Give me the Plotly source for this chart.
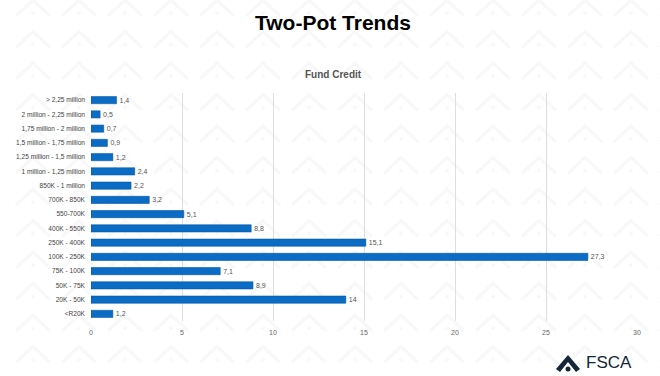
import plotly.graph_objects as go

categories = ["> 2,25 million", "2 million - 2,25 million", "1,75 million - 2 million",
              "1,5 million - 1,75 million", "1,25 million - 1,5 million", "1 million - 1,25 million",
              "850K - 1 million", "700K - 850K", "550-700K", "400K - 550K", "250K - 400K",
              "100K - 250K", "75K - 100K", "50K - 75K", "20K - 50K", "<R20K"]
values = [1.4, 0.5, 0.7, 0.9, 1.2, 2.4, 2.2, 3.2, 5.1, 8.8, 15.1, 27.3, 7.1, 8.9, 14, 1.2]
labels = [("%g" % v).replace(".", ",") for v in values]
x_ticks = [0, 5, 10, 15, 20, 25, 30]

fig = go.Figure(go.Bar(
    y=categories, x=values, orientation="h",
    marker=dict(color="#0a6cc4", line=dict(color="#0558a3", width=0.6)),
    text=labels, textposition="outside", cliponaxis=False,
    textfont=dict(family="Liberation Sans, Arial", size=7, color="#555555"),
    hoverinfo="skip",
))

L, R, T, B = 91, 23, 93, 55
W, H = 660, 376
pw, ph = W - L - R, H - T - B

def px(x):
    return (x - L) / pw

def py(y):
    return (H - B - y) / ph

# faint chevron watermark in the background (decoration)
for r in range(13):
    ay = 0 + r * 31.5
    lines, dots = [], []
    for c in range(15):
        ax = 33 + c * 46
        lines.append("M {} {} L {} {} L {} {}".format(px(ax - 17), py(ay + 16), px(ax), py(ay), px(ax + 17), py(ay + 16)))
        d = 2.4
        cy = ay + 13
        dots.append("M {} {} L {} {} L {} {} L {} {} Z".format(px(ax - d), py(cy), px(ax), py(cy - d), px(ax + d), py(cy), px(ax), py(cy + d)))
    fig.add_shape(type="path", path=" ".join(lines), xref="paper", yref="paper", layer="below",
                  line=dict(color="#f8f8f8", width=3.2))
    fig.add_shape(type="path", path=" ".join(dots), xref="paper", yref="paper", layer="below",
                  fillcolor="#f8f8f8", line=dict(width=0))

# FSCA logo icon (decoration)
icon = "M {} {} L {} {} L {} {} L {} {} L {} {} L {} {} Z".format(
    px(556), py(369), px(568), py(355), px(580), py(369),
    px(576), py(372), px(568), py(362), px(560), py(372))
fig.add_shape(type="path", path=icon, xref="paper", yref="paper",
              fillcolor="#14263a", line=dict(width=0))
fig.add_shape(type="circle", xref="paper", yref="paper",
              x0=px(565.5), x1=px(570.5), y0=py(371.5), y1=py(366.5),
              fillcolor="#14263a", line=dict(width=0))
fig.add_annotation(text="FSCA", xref="paper", yref="paper", x=px(584), y=py(362),
                   xanchor="left", yanchor="middle", showarrow=False,
                   font=dict(family="Liberation Sans, Arial", size=17, color="#14263a"))

fig.add_annotation(text="<b>Two-Pot Trends</b>", xref="paper", yref="paper",
                   x=px(333), y=py(22), xanchor="center", yanchor="middle", showarrow=False,
                   font=dict(family="Liberation Sans, Arial", size=21, color="#000000"))
fig.add_annotation(text="<b>Fund Credit</b>", xref="paper", yref="paper",
                   x=px(333), y=py(74), xanchor="center", yanchor="middle", showarrow=False,
                   font=dict(family="Liberation Sans, Arial", size=10, color="#555555"))

fig.update_layout(
    width=W, height=H,
    margin=dict(l=L, r=R, t=T, b=B, pad=0),
    paper_bgcolor="#ffffff", plot_bgcolor="rgba(0,0,0,0)",
    bargap=0.5, showlegend=False,
    font=dict(family="Liberation Sans, Arial", color="#555555"),
)
fig.update_xaxes(range=[0, 30], tickvals=x_ticks, ticktext=[str(t) for t in x_ticks],
                 showgrid=True, gridcolor="#dedede", gridwidth=1,
                 zeroline=False, showline=False, ticklabelstandoff=6,
                 tickfont=dict(size=7, color="#666666"), fixedrange=True)
fig.update_yaxes(autorange="reversed", showgrid=False, showline=False, zeroline=False,
                 ticklabelstandoff=5, tickfont=dict(size=6.6, color="#444444"), fixedrange=True)

fig.write_html("out.html", config={"displayModeBar": False},
               post_script="document.body.style.margin='0';document.body.style.overflow='hidden';")
